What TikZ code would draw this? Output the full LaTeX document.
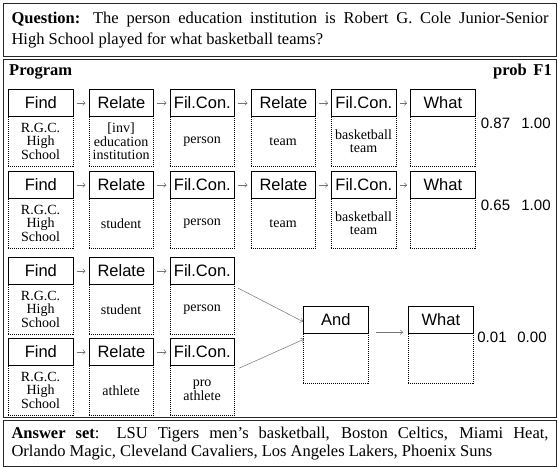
\documentclass[tikz,border=0pt]{standalone}
\usepackage{fontspec}
\setmainfont{Liberation Serif}
\newfontfamily\arialf{Liberation Sans}
\usetikzlibrary{arrows.meta}
\newcommand\modu[5]{%
  \node[low, anchor=north west] (#1l) at (#2,#3+27) {#5};
  \node[hdr, anchor=north west] (#1h) at (#2,#3) {#4};
}
\begin{document}
\begin{tikzpicture}[x=1pt,y=-1pt,
  outer/.style={draw=black!85, line width=1.1pt, inner sep=0pt},
  hdr/.style={draw, line width=1.2pt, fill=white, minimum width=64.5pt, minimum height=27pt, inner sep=0pt, font=\arialf\fontsize{16.5}{18}\selectfont},
  low/.style={draw, line width=0.7pt, dash pattern=on 1pt off 1pt, minimum width=64.5pt, minimum height=50pt, inner sep=0pt, align=center, font=\fontsize{14}{13.5}\selectfont},
  flow/.style={draw=black!55, line width=0.5pt, -{To[length=3pt,width=5pt]}},
  val/.style={font=\arialf\fontsize{15}{18}\selectfont, inner sep=0pt},
  ttl/.style={font=\bfseries\fontsize{16.5}{18}\selectfont, inner sep=0pt},
]
\fill[white] (0,0) rectangle (558,468);
\useasboundingbox (0,0) rectangle (558,468);

% Question
\node[outer, anchor=north west, minimum width=553pt, minimum height=53pt, text width=537pt, inner xsep=8pt, align=justify, font=\fontsize{16.5}{20.5}\selectfont] (q) at (3,3)
 {\textbf{Question:} The person education institution is Robert G. Cole Junior-Senior\linebreak High School played for what basketball teams?};

% Program frame
\node[outer, anchor=north west, minimum width=553pt, minimum height=358pt] (prog) at (3,59) {};
\node[ttl, anchor=base west] (ptitle) at (9,76) {Program};
\node[ttl, anchor=base east] (probh) at (527,76) {prob};
\node[ttl, anchor=base east] (f1h) at (552,76) {F1};

% Row 1
\modu{a1}{8}{89}{Find}{R.G.C.\\High\\School}
\modu{a2}{88.5}{89}{Relate}{[inv]\\education\\institution}
\modu{a3}{169.5}{89}{Fil.Con.}{person}
\modu{a4}{250.5}{89}{Relate}{team}
\modu{a5}{331}{89}{Fil.Con.}{basketball\\team}
\modu{a6}{410}{89}{What}{}
\foreach \i/\j in {1/2,2/3,3/4,4/5,5/6}
  \draw[flow] ([xshift=3pt]a\i h.east) -- ([xshift=-3pt]a\j h.west);
\node[val] (pa) at (495.5,123) {0.87};
\node[val] (fa) at (536,123) {1.00};

% Row 2
\modu{b1}{8}{171}{Find}{R.G.C.\\High\\School}
\modu{b2}{88.5}{171}{Relate}{student}
\modu{b3}{169.5}{171}{Fil.Con.}{person}
\modu{b4}{250.5}{171}{Relate}{team}
\modu{b5}{331}{171}{Fil.Con.}{basketball\\team}
\modu{b6}{410}{171}{What}{}
\foreach \i/\j in {1/2,2/3,3/4,4/5,5/6}
  \draw[flow] ([xshift=3pt]b\i h.east) -- ([xshift=-3pt]b\j h.west);
\node[val] (pb) at (495.5,205) {0.65};
\node[val] (fb) at (536,205) {1.00};

% Row 3
\modu{c1}{8}{257}{Find}{R.G.C.\\High\\School}
\modu{c2}{88.5}{257}{Relate}{student}
\modu{c3}{169.5}{257}{Fil.Con.}{person}
\foreach \i/\j in {1/2,2/3}
  \draw[flow] ([xshift=3pt]c\i h.east) -- ([xshift=-3pt]c\j h.west);

% Row 4
\modu{d1}{8}{338}{Find}{R.G.C.\\High\\School}
\modu{d2}{88.5}{338}{Relate}{athlete}
\modu{d3}{169.5}{338}{Fil.Con.}{pro\\athlete}
\foreach \i/\j in {1/2,2/3}
  \draw[flow] ([xshift=3pt]d\i h.east) -- ([xshift=-3pt]d\j h.west);

% And / What
\modu{e1}{303}{306}{And}{}
\modu{e2}{408}{306}{What}{}
\draw[flow] ([xshift=3pt,yshift=-3pt]c3h.south east) -- ([yshift=-1.5pt]e1h.west);
\draw[flow] ([xshift=4pt,yshift=-2pt]d3h.south east) -- ([xshift=1pt,yshift=-5pt]e1h.south west);
\draw[flow] ([xshift=7pt,yshift=2pt]e1h.south east) -- ([xshift=-5pt,yshift=2pt]e2h.south west);
\node[val] (pc) at (492,337) {0.01};
\node[val] (fc) at (532,337) {0.00};

% Answer
\node[outer, anchor=north west, minimum width=553pt, minimum height=46pt, text width=537pt, inner xsep=8pt, align=justify, font=\fontsize{16.5}{17.5}\selectfont] (ans) at (3,420)
 {\textbf{Answer set}: LSU Tigers men’s basketball, Boston Celtics, Miami Heat,\linebreak Orlando Magic, Cleveland Cavaliers, Los Angeles Lakers, Phoenix Suns};
\end{tikzpicture}
\end{document}
